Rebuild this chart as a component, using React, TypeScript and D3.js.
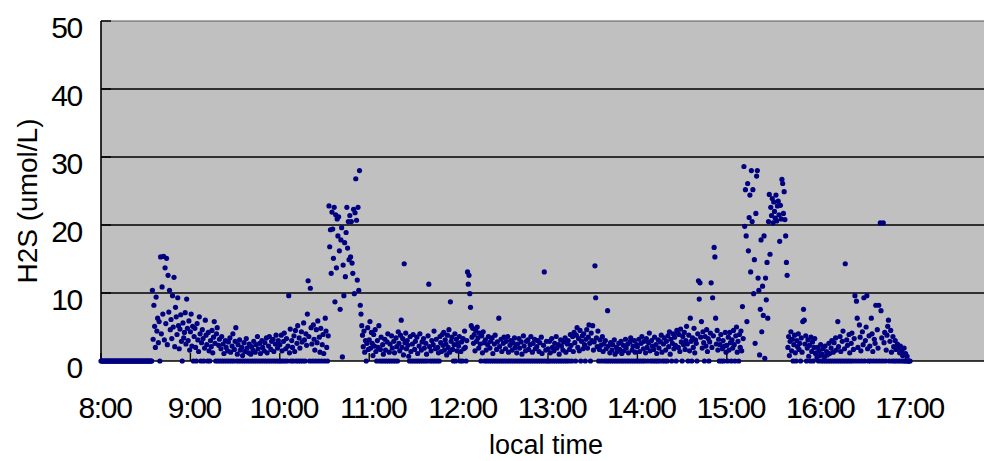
import { useEffect, useRef } from "react";
import * as d3 from "d3";

// H2S readings (umol/L), one value every 30 s, each array starts at the full hour
const h08 = [
  0, 0, 0, 0, 0, 0, 0, 0, 0, 0,
  0, 0, 0, 0, 0, 0, 0, 0, 0, 0,
  0, 0, 0, 0, 0, 0, 0, 0, 0, 0,
  0, 0, 0, 0, 0, 0, 0, 0, 0, 0,
  0, 0, 0, 0, 0, 0, 0, 0, 0, 0,
  0, 0, 0, 0, 0, 0, 0, 0, 0, 0,
  0, 0, 0, 0, 0, 0, 0, 0, 0,
  10.4, 3.2, 8.2, 5.1, 2.0, 9.4, 4.4, 6.3, 2.7, 5.8,
  0, 15.3, 4.0, 10.9, 6.9, 15.4, 3.1, 13.7, 5.5, 15.1,
  2.4, 12.6, 7.2, 10.4, 4.6, 6.1, 3.3, 9.6, 5.0, 12.3,
  2.1, 7.9, 6.5, 3.9, 9.3, 5.2, 1.8, 4.7, 6.8, 2.9,
  0, 5.6, 3.4, 4.2, 7.1, 2.5, 9.1, 4.8, 3.0, 5.9,
  1.6,
];
const h09 = [
  4.3, 6.9, 2.2, 5.1, 0, 3.6, 4.8, 2.0, 0, 5.5,
  3.1, 1.4, 6.5, 4.0, 0, 2.7, 4.6, 3.3, 0, 1.9,
  6.0, 3.8, 2.4, 0, 4.2, 1.5, 0, 3.0, 2.1, 4.5,
  1.2, 3.5, 5.8, 2.6, 0, 4.0, 4.9, 0, 2.3, 3.2,
  0, 1.8, 3.6, 0, 2.5, 1.1, 0, 3.0, 2.0, 0,
  1.5, 2.8, 0, 3.4, 1.3, 0, 2.2, 4.0, 0, 1.7,
  2.9, 4.9, 0, 1.0, 2.4, 0, 3.1, 1.6, 0, 2.0,
  0.8, 0, 2.7, 1.4, 0, 3.3, 1.9, 0, 1.2, 2.5,
  0, 1.0, 2.1, 0, 1.6, 2.9, 0, 1.3, 2.4, 0,
  3.6, 1.8, 0, 2.6, 1.1, 0, 3.0, 2.0, 0, 1.5,
  2.7, 0, 3.4, 1.2, 0, 2.2, 3.6, 0, 1.7, 2.9,
  0, 3.2, 1.4, 0, 2.5, 3.8, 0, 1.9, 3.0, 0,
];
const h10 = [
  2.4, 0, 3.8, 1.5, 0, 2.9, 4.1, 0, 1.8, 3.3,
  0, 2.2, 9.6, 1.2, 4.7, 0, 3.0, 2.0, 0, 3.7,
  1.4, 4.5, 0, 2.6, 5.2, 0, 3.4, 1.9, 0, 4.3,
  2.8, 0, 5.6, 3.1, 0, 4.0, 2.3, 6.9, 11.8, 3.6,
  0, 10.7, 4.9, 2.5, 0, 5.3, 3.2, 1.6, 0, 4.6,
  2.7, 5.9, 0, 3.5, 1.3, 4.8, 0, 2.4, 3.9, 1.1,
  0, 6.3, 4.4, 2.0, 0, 3.7,
  22.8, 16.8, 19.3, 12.9, 21.9, 19.4, 15.1, 22.6, 8.7, 21.5,
  13.7, 20.9, 18.4, 21.2, 16.2, 7.6, 17.8, 19.6, 0.6, 14.1,
  9.6, 17.4, 12.4, 18.9, 22.6, 16.6, 20.5, 14.9, 21.4, 15.3,
  20.5, 14.4, 12.9, 22.3, 9.9, 21.8, 26.8, 20.7, 11.9, 22.6,
  10.4, 28.0, 8.2, 6.9,
  5.2, 3.8, 2.1, 4.4, 1.3, 3.0, 0, 2.6, 4.9, 1.7,
];
const h11 = [
  3.1, 5.8, 1.9, 4.2, 2.6, 0.8, 3.9, 2.2, 4.6, 1.4,
  0, 3.0, 2.0, 5.2, 0, 1.7, 3.5, 0, 2.4, 1.0,
  0, 3.2, 1.6, 0, 2.8, 4.0, 0, 1.3, 2.5, 0,
  3.7, 1.9, 0, 2.9, 1.2, 0, 3.4, 2.1, 0, 4.3,
  2.6, 1.5, 3.8, 6.0, 2.0, 3.3, 0.9, 14.3, 2.7, 4.1,
  1.8, 3.0, 2.3, 0.7, 0, 3.6, 1.4, 0, 2.5, 3.9,
  0, 1.7, 2.9, 0, 3.5, 1.1, 0, 2.2, 4.0, 0,
  1.6, 2.8, 0, 3.3, 1.9, 0, 2.6, 1.0, 0, 3.7,
  11.3, 2.1, 0, 1.5, 3.0, 0, 2.4, 4.4, 0, 1.8,
  3.2, 0, 2.0, 1.2, 0, 3.6, 2.7, 1.4, 3.9, 2.3,
  4.2, 1.6, 3.1, 2.5, 0.9, 3.8, 2.0, 4.6, 1.3, 8.7,
  2.9, 3.5, 1.7, 0, 2.4, 4.0, 0, 3.2, 1.5, 2.6,
];
const h12 = [
  2.2, 3.6, 0, 1.4, 2.8, 0, 3.3, 1.8, 4.4, 2.0,
  0, 3.0, 13.1, 11.3, 12.6, 9.9, 7.9, 5.2, 3.5, 4.8,
  2.6, 3.9, 1.5, 4.5, 2.9, 5.0, 3.4, 1.9, 4.1, 2.5,
  0, 3.7, 1.2, 4.3, 2.7, 0, 3.1, 1.6, 0, 2.4,
  3.6, 0, 1.9, 2.9, 0, 3.4, 1.1, 0, 2.5, 3.8,
  0, 1.7, 2.8, 0, 6.3, 2.1, 0, 3.2, 1.4, 0,
  2.6, 3.5, 0, 1.8, 2.9, 0, 3.6, 1.3, 0, 2.3,
  3.0, 0, 1.6, 2.7, 0, 3.4, 2.0, 0, 1.2, 2.5,
  0, 3.3, 1.9, 0, 2.8, 1.0, 0, 3.7, 2.2, 0,
  1.5, 2.9, 0, 3.1, 1.7, 0, 2.4, 3.6, 0, 1.3,
  2.6, 0, 3.2, 1.8, 0, 2.1, 3.0, 0, 1.4, 2.7,
  0, 3.5, 1.1, 0, 2.3, 13.1, 0, 1.6, 2.9, 0,
];
const h13 = [
  1.8, 0, 2.9, 1.2, 0, 3.3, 2.0, 0, 1.5, 2.6,
  0, 3.6, 1.9, 0, 2.4, 1.0, 0, 3.1, 2.2, 0,
  1.6, 2.8, 0, 3.4, 1.3, 0, 2.5, 3.0, 0, 1.7,
  3.9, 2.3, 0, 3.6, 1.4, 4.2, 2.7, 0, 3.8, 4.9,
  2.0, 3.3, 1.5, 4.5, 0, 2.9, 3.7, 1.8, 4.0, 2.4,
  0, 3.2, 4.6, 1.9, 3.5, 5.3, 2.6, 0, 4.1, 3.0,
  5.2, 1.6, 2.8, 14.0, 9.3, 3.4, 2.1, 4.4, 0, 1.7,
  3.1, 2.3, 0, 3.6, 1.4, 2.5, 0, 3.0, 1.8, 0,
  7.4, 2.2, 0, 1.2, 2.7, 0, 1.6, 2.4, 0, 3.1,
  1.0, 0, 2.0, 1.4, 0, 2.6, 1.7, 0, 2.9, 1.1,
  0, 2.3, 1.5, 0, 3.2, 1.9, 0, 2.5, 1.2, 0,
  2.8, 3.4, 0, 1.6, 2.2, 0, 3.0, 1.3, 0, 2.4,
];
const h14 = [
  2.1, 0, 3.2, 1.4, 0, 2.6, 3.6, 0, 1.8, 2.9,
  0, 1.2, 3.3, 2.0, 0, 2.7, 4.1, 1.5, 0, 3.0,
  2.2, 0, 1.7, 3.5, 0, 2.4, 1.1, 0, 3.1, 1.9,
  0, 2.8, 3.8, 1.3, 0, 2.5, 3.4, 0, 1.6, 2.9,
  0, 3.7, 2.1, 4.3, 1.0, 3.2, 0, 2.6, 4.0, 1.8,
  3.5, 2.3, 0, 4.5, 4.1, 2.0, 3.9, 1.4, 4.7, 2.8,
  0, 3.6, 2.4, 4.2, 1.7, 3.0, 5.1, 2.5, 0, 3.8,
  1.5, 6.3, 2.9, 0, 3.4, 2.0, 4.8, 1.2, 3.1, 2.6,
  0, 4.0, 11.8, 9.1, 11.5, 3.5, 5.8, 1.9, 4.3, 2.7,
  0, 3.6, 2.2, 4.6, 1.4, 3.3, 0, 2.8, 4.1, 11.5,
  2.0, 9.3, 3.7, 16.7, 15.3, 6.3, 2.5, 4.5, 1.6, 3.2,
  0, 2.4, 3.9, 0, 1.8, 3.0, 0, 2.2, 4.2, 1.3,
];
const h15 = [
  2.3, 0, 3.5, 1.6, 4.2, 2.7, 0, 3.1, 1.9, 4.5,
  2.4, 0, 3.7, 5.0, 1.3, 2.9, 0, 3.9, 2.0, 4.4,
  1.5, 8.0, 3.3, 28.6, 19.8, 25.2, 18.4, 5.8, 26.1, 16.2,
  21.1, 24.4, 13.1, 28.0, 20.5, 25.2, 9.9, 14.9, 2.6, 21.7,
  27.2, 28.0, 12.2, 10.4, 0.9, 7.6, 17.8, 4.3, 11.0, 6.7,
  18.4, 0.4, 12.2, 9.0, 14.5, 6.3, 20.5, 24.5, 15.7, 22.6,
  21.4, 23.9, 20.3, 23.4, 22.0, 21.0, 24.4, 20.6, 22.8, 23.5,
  21.5, 17.6, 22.9, 20.9, 26.7, 26.1, 21.7, 24.9, 20.8, 18.4,
  14.5, 12.6, 2.0, 3.6, 0.8, 2.9, 4.3, 1.5, 3.2, 0,
  2.4, 3.8, 1.2, 0, 3.0, 2.1, 4.0, 1.7, 2.6, 0,
  3.4, 1.3, 5.8, 7.6, 6.0, 2.5, 3.7, 0, 1.9, 3.1,
  0.7, 2.3, 0, 3.5, 1.4, 2.8, 0, 2.0, 3.3, 1.1,
];
const h16 = [
  1.2, 0.5, 2.0, 0, 1.5, 0.8, 2.4, 0, 1.0, 1.8,
  0, 0.6, 2.2, 0, 1.4, 0.9, 0, 2.6, 1.1, 0,
  1.9, 3.0, 0, 1.3, 2.7, 0, 3.4, 1.6, 0, 5.8,
  2.1, 0, 3.6, 1.4, 0, 2.9, 4.4, 0, 1.8, 14.3,
  0, 3.1, 2.3, 0, 3.9, 1.2, 0, 2.6, 4.1, 0,
  1.7, 3.3, 9.6, 0, 8.8, 6.3, 2.0, 0, 5.3, 3.5,
  1.5, 0, 4.3, 2.4, 9.3, 0, 3.0, 5.0, 9.6, 1.8,
  0, 3.7, 2.2, 0, 6.3, 4.0, 1.4, 0, 3.2, 2.6,
  8.2, 0, 4.6, 1.9, 8.2, 0, 20.3, 7.4, 3.4, 0,
  20.3, 2.7, 4.2, 0, 1.6, 3.8, 5.1, 6.0, 0, 2.9,
  4.5, 1.3, 0, 3.6, 2.1, 0, 3.0, 1.7, 0, 2.5,
  1.9, 0, 1.2, 2.2, 0, 1.5, 0.8, 0, 1.9, 0,
];
const h17 = [1.1, 0, 0.7, 0, 0, 0, 0];

const hourStarts = [8, 9, 10, 11, 12, 13, 14, 15, 16, 17];
const hourSeries = [h08, h09, h10, h11, h12, h13, h14, h15, h16, h17];
const samplesPerHour = 120;

const yTicks = [0, 10, 20, 30, 40, 50];
const xTickHours = [8, 9, 10, 11, 12, 13, 14, 15, 16, 17];
const xTitle = "local time";
const yTitle = "H2S (umol/L)";

const FONT = '"Liberation Sans", Arial, sans-serif';

function H2SScatter() {
  const ref = useRef<SVGSVGElement>(null);

  useEffect(() => {
    const svg = d3.select(ref.current);
    svg.selectAll("*").remove();

    const width = 984;
    const height = 461;
    const left = 101;
    const top = 21;
    const bottom = 361;

    const x = d3.scaleLinear().domain([8, 18]).range([left, left + 894]);
    const y = d3.scaleLinear().domain([0, 50]).range([bottom, top]);

    const points = hourSeries.flatMap((arr, k) =>
      arr.map((v, i) => ({ t: hourStarts[k] + i / samplesPerHour, v }))
    );

    svg.attr("width", width).attr("height", height);

    // plot area
    svg
      .append("rect")
      .attr("x", left)
      .attr("y", top)
      .attr("width", width - left)
      .attr("height", bottom - top)
      .attr("fill", "#c0c0c0");

    // gridlines
    svg
      .append("g")
      .selectAll("line")
      .data(yTicks.filter((d) => d > 0 && d < 50))
      .enter()
      .append("line")
      .attr("x1", left)
      .attr("x2", width)
      .attr("y1", (d) => y(d))
      .attr("y2", (d) => y(d))
      .attr("stroke", "#000")
      .attr("stroke-width", 1.4);

    svg
      .append("line")
      .attr("x1", left)
      .attr("x2", width)
      .attr("y1", y(50))
      .attr("y2", y(50))
      .attr("stroke", "#555")
      .attr("stroke-width", 1);

    // y ticks (inside)
    svg
      .append("g")
      .selectAll("line")
      .data(yTicks)
      .enter()
      .append("line")
      .attr("x1", left)
      .attr("x2", left + 10)
      .attr("y1", (d) => y(d))
      .attr("y2", (d) => y(d))
      .attr("stroke", "#000")
      .attr("stroke-width", 1.4);

    // x ticks (inside)
    svg
      .append("g")
      .selectAll("line")
      .data(xTickHours)
      .enter()
      .append("line")
      .attr("x1", (d) => x(d))
      .attr("x2", (d) => x(d))
      .attr("y1", bottom)
      .attr("y2", bottom - 8)
      .attr("stroke", "#000")
      .attr("stroke-width", 1.4);

    // axes lines
    svg
      .append("line")
      .attr("x1", left)
      .attr("x2", left)
      .attr("y1", top)
      .attr("y2", bottom)
      .attr("stroke", "#000")
      .attr("stroke-width", 1.6);
    svg
      .append("line")
      .attr("x1", left)
      .attr("x2", width)
      .attr("y1", bottom)
      .attr("y2", bottom)
      .attr("stroke", "#000")
      .attr("stroke-width", 1.6);

    // points
    svg
      .append("g")
      .selectAll("circle")
      .data(points)
      .enter()
      .append("circle")
      .attr("cx", (d) => x(d.t))
      .attr("cy", (d) => y(d.v))
      .attr("r", 2.6)
      .attr("fill", "#000080");

    // tick labels
    svg
      .append("g")
      .selectAll("text")
      .data(yTicks)
      .enter()
      .append("text")
      .attr("x", 82)
      .attr("y", (d) => y(d) + 17)
      .attr("text-anchor", "end")
      .attr("font-family", FONT)
      .attr("font-size", 30)
      .attr("letter-spacing", -1.3)
      .attr("fill", "#000")
      .text((d) => d);

    svg
      .append("g")
      .selectAll("text")
      .data(xTickHours)
      .enter()
      .append("text")
      .attr("x", (d) => x(d) + 4)
      .attr("y", 418)
      .attr("text-anchor", "middle")
      .attr("font-family", FONT)
      .attr("font-size", 30)
      .attr("letter-spacing", -1.3)
      .attr("fill", "#000")
      .text((d) => `${d}:00`);

    // titles
    svg
      .append("text")
      .attr("x", 546)
      .attr("y", 454)
      .attr("text-anchor", "middle")
      .attr("font-family", FONT)
      .attr("font-size", 27)
      .attr("fill", "#000")
      .text(xTitle);

    svg
      .append("text")
      .attr("transform", "translate(37,201) rotate(-90)")
      .attr("text-anchor", "middle")
      .attr("font-family", FONT)
      .attr("font-size", 28)
      .attr("fill", "#000")
      .text(yTitle);
  }, []);

  return (
    <svg
      ref={ref}
      width={984}
      height={461}
      style={{ position: "absolute", left: 0, top: 0, background: "#fff" }}
    />
  );
}

export default function App() {
  return <H2SScatter />;
}
